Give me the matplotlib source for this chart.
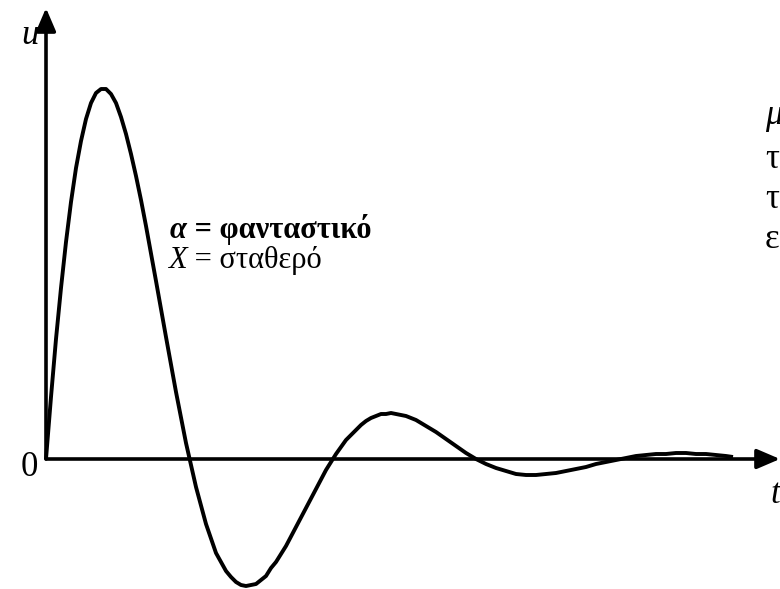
import numpy as np
import matplotlib.pyplot as plt

plt.rcParams['font.family'] = ['Liberation Serif', 'DejaVu Serif']

#%% response u(t) (finer steps around the extrema)

t_vals = [0, 5, 10, 15, 20, 25, 30, 35, 40, 45, 50, 55, 60, 65, 70, 75, 80,
          85, 90, 95, 100, 110, 120, 130, 140, 150, 160, 170, 175, 180, 185,
          190, 195, 200, 205, 210, 215, 220, 225, 230, 240, 250, 260, 270,
          280, 290, 300, 305, 310, 315, 320, 325, 330, 335, 340, 345, 350,
          355, 360, 370, 380, 390, 400, 410, 420, 430, 440, 450, 460, 470,
          480, 490, 500, 510, 520, 530, 540, 550, 560, 570, 580, 590, 600,
          610, 620, 630, 640, 650, 660, 670, 680, 687]
u_vals = [0, 62, 120, 171, 217, 257, 291, 318, 340, 356, 366, 370, 370, 365,
          356, 342, 325, 305, 283, 259, 233, 178, 122, 67, 16, -28, -65, -94,
          -103, -112, -118, -123, -126, -127, -126, -125, -121, -117, -109,
          -103, -87, -68, -49, -30, -11, 5, 19, 24, 29, 34, 38, 41, 43, 45,
          45, 46, 45, 44, 43, 39, 33, 27, 20, 13, 6, 0, -5, -9, -12, -15, -16,
          -16, -15, -14, -12, -10, -8, -5, -3, -1, 1, 3, 4, 5, 5, 6, 6, 5, 5,
          4, 3, 2]

# axis extents
t_axis_end = 734
u_axis_end = 451

fig = plt.figure(figsize=(7.8, 5.89), dpi=100)
ax = fig.add_axes([0, 0, 1, 1])
ax.set_xlim(-46, 734)
ax.set_ylim(-130, 459)
ax.axis('off')

# axes with arrow heads
arrow = dict(arrowstyle='-|>,head_length=0.7,head_width=0.3', lw=2.6,
             color='k', shrinkA=0, shrinkB=0, mutation_scale=20)
ax.annotate('', xy=(t_axis_end, 0), xytext=(0, 0), arrowprops=arrow)
ax.annotate('', xy=(0, u_axis_end), xytext=(0, 0), arrowprops=arrow)

ax.plot(t_vals, u_vals, color='k', lw=2.8, solid_joinstyle='round',
        solid_capstyle='butt')

fs = 25
ax.text(-16, 424, 'u', fontsize=fs, style='italic', ha='center', va='center')
ax.text(-17, -9, '0', fontsize=fs, ha='center', va='center')
ax.text(724, -19, 't', fontsize=fs, style='italic', ha='left', va='top')

# parameter labels
fs2 = 22
a = ax.text(124, 221, 'α', fontsize=fs2, style='italic', weight='bold',
            ha='left', va='baseline')
ax.annotate(' = φανταστικό', xy=(1, 0), xycoords=a, fontsize=fs2,
            weight='bold', ha='left', va='bottom')
x = ax.text(122, 191, 'X', fontsize=fs2, style='italic', ha='left',
            va='baseline')
ax.annotate(' = σταθερό', xy=(1, 0), xycoords=x, fontsize=fs2,
            ha='left', va='bottom')

# side text running off the right edge
ax.text(719, 344, 'μ', fontsize=fs, style='italic', ha='left', va='center')
ax.text(719, 299, 'τ', fontsize=fs, ha='left', va='center')
ax.text(719, 259, 'τ', fontsize=fs, ha='left', va='center')
ax.text(719, 219, 'ε', fontsize=fs, ha='left', va='center')

plt.savefig('out.png', dpi=100)
